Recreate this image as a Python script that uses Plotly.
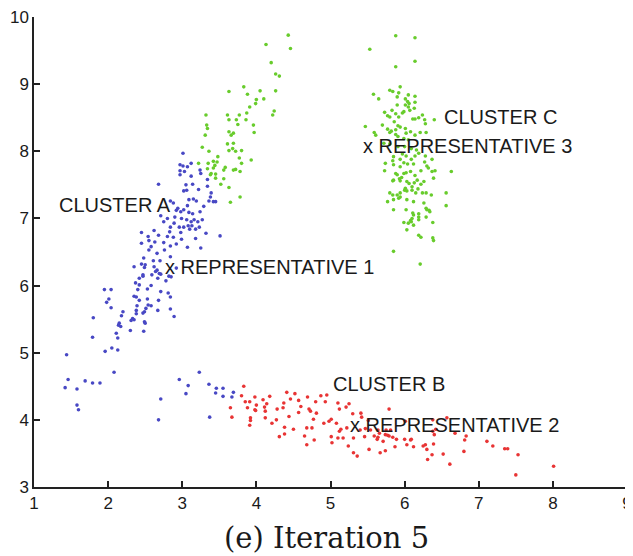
import plotly.graph_objects as go

# ---- data ----
cluster_a = [
(3.01,7.97),(2.97,7.80),(3.01,7.78),(3.07,7.77),(2.97,7.71),(3.03,7.70),(3.12,7.82),(2.97,7.65),(3.24,7.72),(3.25,7.67),
(3.12,7.63),(2.68,7.51),(3.05,7.50),(3.14,7.51),(3.06,7.42),(3.02,7.41),(3.22,7.43),(3.34,7.58),(3.34,7.48),(3.39,7.38),
(3.38,7.32),(3.36,7.26),(3.42,7.25),(3.45,7.25),(3.29,7.18),(3.15,7.29),(3.09,7.28),(3.19,7.26),(2.84,7.26),(2.88,7.23),
(3.07,7.19),(2.94,7.15),(3.02,7.13),(2.98,7.10),(2.92,7.12),(3.09,7.09),(3.14,7.07),(3.24,7.10),(2.71,7.04),(2.80,7.00),
(2.90,7.02),(2.99,7.00),(3.06,6.98),(3.12,6.95),(3.16,6.98),(3.21,6.95),(3.27,6.98),(2.75,6.95),(2.89,6.93),(2.84,6.87),
(2.96,6.87),(3.02,6.87),(3.08,6.89),(3.10,6.84),(3.13,6.89),(3.18,6.84),(3.23,6.87),(3.32,6.78),(3.51,6.74),(2.62,6.82),
(2.45,6.79),(2.83,6.80),(2.98,6.79),(2.54,6.73),(2.68,6.75),(2.80,6.73),(2.88,6.72),(2.99,6.69),(3.18,6.70),(2.55,6.67),
(2.63,6.65),(2.75,6.64),(2.92,6.62),(2.84,6.59),(2.58,6.58),(2.45,6.63),(3.07,6.57),(3.25,6.56),(2.76,6.53),(2.66,6.48),
(2.55,6.53),(2.84,6.43),(2.48,6.41),(2.61,6.37),(2.70,6.37),(2.45,6.32),(2.35,6.28),(2.49,6.27),(2.62,6.28),(2.66,6.23),
(2.69,6.18),(2.59,6.16),(2.47,6.16),
(2.50,6.31),(2.64,6.21),(2.71,6.17),(2.47,6.14),(2.42,6.11),(2.82,6.14),(2.85,6.13),(2.67,6.11),(2.78,6.07),(2.92,6.26),
(2.37,6.04),(2.42,6.01),(2.58,6.00),(2.53,5.95),(1.95,5.94),(2.04,5.94),(2.40,5.94),(2.71,5.91),(2.81,5.89),(2.35,5.84),
(2.38,5.83),(2.01,5.80),(1.98,5.75),(2.53,5.80),(2.42,5.78),(2.68,5.78),(2.84,5.83),(2.54,5.71),(2.58,5.70),(2.51,5.66),
(2.04,5.67),(2.39,5.70),(2.67,5.63),(2.84,5.65),(2.38,5.63),(2.49,5.61),(2.20,5.61),(2.47,5.59),(2.18,5.55),(2.38,5.58),
(2.89,5.54),(1.80,5.52),(2.33,5.51),(2.31,5.48),(2.35,5.49),(2.49,5.46),(2.50,5.44),(2.15,5.44),(2.17,5.39),(2.14,5.41),
(2.30,5.33),(2.48,5.32),(2.11,5.29),(1.79,5.23),(2.13,5.22),(2.05,5.07),(2.13,5.04),(1.96,5.02),(1.44,4.97),(2.08,4.71),
(1.46,4.60),(1.42,4.48),(1.58,4.46),(1.69,4.58),(1.79,4.55),(1.89,4.55),(1.58,4.22),(1.60,4.15),(2.71,4.31),(2.68,4.00),
(2.96,4.60),(3.08,4.51),(3.05,4.39),(3.23,4.71),(3.36,4.53),(3.46,4.47),(3.55,4.47),(3.45,4.40),(3.55,4.35),(3.69,4.41),
(3.67,4.34),(3.37,4.04),
]

cluster_b = [
(3.83,4.50),(3.80,4.36),(3.85,4.27),(3.91,4.27),(3.88,4.18),(3.65,4.18),(3.67,4.04),(3.92,4.03),(3.92,3.99),(3.91,3.92),
(3.98,4.15),(3.98,4.34),(3.99,4.14),(4.00,4.22),(4.09,4.30),(4.11,4.19),(4.14,4.24),(4.18,4.35),(4.12,4.13),(4.12,4.03),
(4.21,3.95),(4.28,4.16),(4.27,4.00),(4.31,3.75),(4.37,4.25),(4.36,4.18),(4.41,4.41),(4.52,4.39),(4.46,4.31),(4.44,4.05),
(4.38,3.89),(4.38,3.79),(4.50,3.86),(4.57,4.29),(4.57,4.11),(4.60,4.20),(4.69,4.34),(4.71,4.16),(4.73,4.13),(4.68,3.88),
(4.65,3.76),(4.68,3.63),(4.75,3.88),(4.77,4.01),(4.81,4.10),(4.78,3.70),(4.80,4.27),(4.87,4.36),(4.95,4.37),(4.93,4.27),
(4.91,3.95),(4.98,3.98),(5.01,4.01),(5.08,3.95),(5.01,3.75),(5.02,3.66),(5.10,4.25),(5.12,4.16),(5.21,4.19),(5.25,4.24),
(5.12,3.83),(5.14,3.86),(5.10,3.73),(5.17,3.73),(5.22,3.88),(5.24,3.61),(5.30,4.09),(5.31,3.73),(5.31,3.51),(5.36,3.46),
(5.41,4.10),(5.42,4.04),(5.40,3.85),(5.46,3.75),(5.54,3.85),(5.52,3.56),(5.59,3.76),(5.63,3.71),(5.66,3.80),(5.67,3.51),
(5.71,3.68),(5.74,3.54),(5.74,3.78),(5.79,4.16),(5.79,3.76),(5.81,3.85),(5.84,3.74),(5.87,3.60),
(6.01,3.98),(6.00,3.71),(6.09,3.71),(6.03,3.63),(6.12,3.60),(6.25,3.61),(6.28,3.63),(6.30,3.56),(6.38,3.83),(6.40,3.78),
(6.39,3.64),(6.37,3.48),(6.31,3.41),(6.52,3.49),(6.61,3.34),(6.57,4.03),(6.68,3.80),(6.81,3.70),(6.83,3.76),(6.80,3.53),
(7.11,3.68),(7.19,3.61),(7.35,3.57),(7.39,3.57),(7.53,3.48),(7.50,3.18),(8.01,3.31),
(6.38,4.00),(6.42,3.86),(5.51,3.99),(5.47,3.87),(5.64,3.85),(5.75,3.85),(5.77,3.77),(5.64,3.74),(5.89,3.71),(6.08,3.70),
]

cluster_c = [
(4.43,9.73),(4.13,9.59),(4.46,9.53),(4.20,9.32),(4.26,9.15),(4.31,9.12),(3.83,8.96),(3.63,8.89),(4.05,8.90),(4.26,8.90),
(3.88,8.85),(4.00,8.77),(4.10,8.78),(3.99,8.71),(3.91,8.66),(4.24,8.60),(4.22,8.54),(3.87,8.57),(3.77,8.54),(3.61,8.54),
(3.32,8.54),(3.63,8.47),(3.73,8.47),(3.86,8.47),(3.75,8.40),(3.96,8.39),(3.33,8.39),(3.34,8.34),(3.63,8.29),(3.69,8.27),
(3.66,8.24),(3.97,8.28),(3.31,8.24),(3.61,8.11),(3.69,8.12),(3.27,8.06),(3.68,8.04),(3.80,8.01),(3.63,8.01),(3.72,8.00),
(3.36,8.00),(3.48,7.92),(3.77,7.90),(3.93,7.87),(3.42,7.85),(3.47,7.84),(3.35,7.82),(3.22,7.82),(3.80,7.82),(3.44,7.79),
(3.42,7.75),(3.34,7.74),(3.58,7.76),(3.56,7.72),(3.69,7.72),(3.72,7.73),(3.78,7.70),(3.39,7.67),(3.45,7.66),(3.38,7.65),
(3.56,7.59),(3.45,7.60),(3.52,7.51),(3.63,7.46),(3.78,7.32),(3.65,7.24),
(5.88,9.72),(6.14,9.69),(5.53,9.52),(6.14,9.34),(5.88,9.26),(5.94,8.96),(5.80,8.91),(5.84,8.89),(5.92,8.87),(5.58,8.85),
(6.05,8.84),(5.90,8.81),(6.14,8.82),(5.65,8.78),(6.01,8.78),(6.04,8.74),(6.14,8.73),(5.90,8.69),(6.01,8.69),(6.05,8.66),
(6.06,8.71),(6.13,8.64),(5.83,8.61),(5.99,8.59),(6.07,8.61),(5.73,8.58),(6.24,8.54),(5.88,8.56),(5.92,8.51),(5.97,8.57),
(5.80,8.51),(5.77,8.53),(6.19,8.50),(6.11,8.48),(6.14,8.48),(6.27,8.47),(6.40,8.47),(5.86,8.44),(5.70,8.39),(5.91,8.38),
(5.94,8.36),(6.28,8.41),(6.01,8.34),(5.47,8.37),(5.77,8.33),(5.80,8.28),(6.29,8.28),(6.14,8.24),(5.61,8.24),(5.88,8.25),
(5.91,8.22),(5.99,8.19),(6.05,8.17),
(5.59,8.28),(5.82,8.30),(5.88,8.32),(6.02,8.27),(6.08,8.29),(6.21,8.28),(5.72,8.12),(5.80,8.11),(5.91,8.07),(6.00,8.07),
(6.09,8.04),(6.16,8.02),(6.19,7.97),(5.85,7.92),(5.94,7.88),(6.02,7.93),(6.09,7.88),(6.14,7.93),(6.28,7.93),(5.74,7.82),
(5.85,7.80),(5.94,7.77),(6.12,7.81),(6.30,7.78),(6.63,7.70),(5.90,7.65),(5.99,7.67),(6.08,7.70),(6.22,7.71),(6.37,7.70),
(5.84,7.56),(5.94,7.56),(6.03,7.55),(6.17,7.57),(6.26,7.55),(6.39,7.60),(5.80,7.38),(5.84,7.35),(5.94,7.38),(6.01,7.45),
(6.03,7.41),(6.10,7.42),(6.15,7.38),(6.24,7.38),(6.29,7.38),(6.36,7.35),(6.56,7.38),(5.77,7.25),(5.85,7.28),(5.94,7.32),
(6.03,7.28),(6.12,7.25),(6.26,7.23),(6.29,7.15),(6.34,7.10),(6.56,7.19),(6.02,7.13),(6.12,7.05),(6.19,7.02),(6.19,6.98),
(6.09,6.95),(5.99,6.94),(6.12,6.90),(6.29,7.02),(6.38,6.94),(6.03,6.83),(6.19,6.75),(6.22,6.72),(6.38,6.71),(6.39,6.67),
(5.85,6.51),(6.21,6.32),
(5.73,7.71),(5.85,7.57),(6.41,7.71),(6.32,7.75),(6.27,7.84),(6.37,7.88),(5.99,7.83),(6.04,7.81),(5.84,7.86),(5.97,7.96),
(5.88,7.67),(5.93,7.59),(5.96,7.61),(6.02,7.68),(6.14,7.64),(6.13,7.53),(6.06,7.52),(6.10,7.47),(6.22,7.51),(6.18,7.44),
(6.30,7.13),(6.33,7.12),(6.11,7.08),(6.10,7.00),(6.19,7.07),(6.05,6.93),(6.08,6.97),(5.90,7.35),(5.92,7.30),(6.00,7.42),
(5.85,7.13),
]

labels = ["CLUSTER A", "x REPRESENTATIVE 1", "CLUSTER B", "x REPRESENTATIVE 2", "CLUSTER C", "x REPRESENTATIVE 3"]
label_x = [1.31, 2.74, 5.00, 5.23, 6.51, 5.41]
label_y = [7.20, 6.28, 4.54, 3.93, 8.51, 8.08]
x_ticks = [1, 2, 3, 4, 5, 6, 7, 8, 9]
y_ticks = [3, 4, 5, 6, 7, 8, 9, 10]
caption = "(e) Iteration 5"

colors = {"A": "rgb(72,72,196)", "B": "rgb(232,52,52)", "C": "rgb(104,204,44)"}

fig = go.Figure()
for key, pts in (("A", cluster_a), ("B", cluster_b), ("C", cluster_c)):
    fig.add_trace(go.Scatter(
        x=[p[0] for p in pts], y=[p[1] for p in pts], mode="markers",
        marker=dict(size=3.6, color=colors[key], line=dict(width=0)),
        hoverinfo="skip", showlegend=False))

for t, lx, ly in zip(labels, label_x, label_y):
    fig.add_annotation(x=lx, y=ly, text=t, showarrow=False, xanchor="left", yanchor="middle",
                       font=dict(family="Liberation Sans, Arial", size=20, color="#1a1a1a"))

fig.add_annotation(x=0.493, y=-0.068, xref="paper", yref="paper", text=caption, showarrow=False,
                   xanchor="center", yanchor="top",
                   font=dict(family="DejaVu Serif, serif", size=29, color="#1a1a1a"))

axis_common = dict(showline=True, linecolor="#222", linewidth=1.5, ticks="inside", ticklen=6,
                   tickwidth=1.5, tickcolor="#222", showgrid=False, zeroline=False, mirror=False,
                   automargin=False, ticklabeloverflow="allow",
                   tickfont=dict(family="Liberation Sans, Arial", size=17, color="#1a1a1a"))

fig.update_xaxes(range=[1, 9], tickvals=x_ticks, **axis_common)
fig.update_yaxes(range=[3, 10], tickvals=y_ticks, **axis_common)

# page body adds an 8px offset, so the figure is drawn 8px smaller than the window
fig.update_layout(width=625, height=548, margin=dict(l=25.5, r=6.3, t=8.7, b=68.7),
                  plot_bgcolor="white", paper_bgcolor="white")

fig.write_html("out.html")
